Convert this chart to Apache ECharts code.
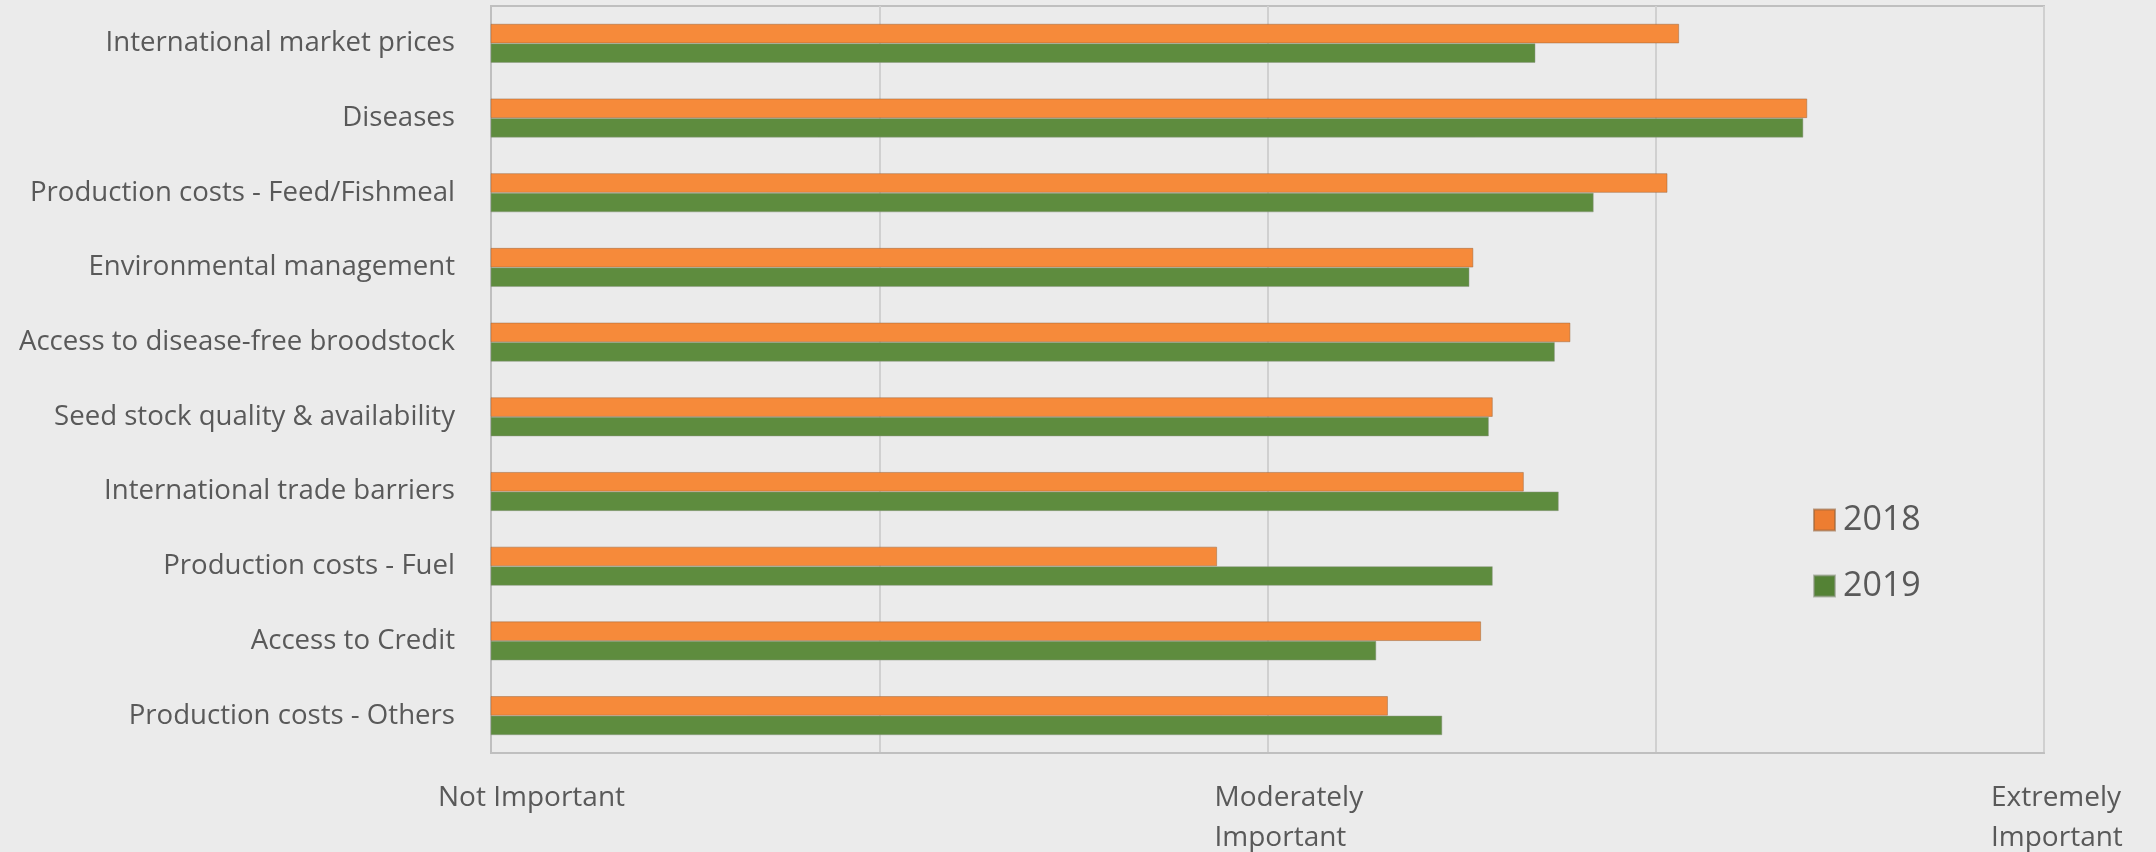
<!DOCTYPE html>
<html>
<head>
<meta charset="utf-8">
<script src="https://cdn.jsdelivr.net/npm/echarts@6/dist/echarts.min.js"></script>
<style>
html,body{margin:0;padding:0;background:#EBEBEB;}
#chart{width:2156px;height:852px;}
</style>
</head>
<body>
<div id="chart"></div>
<script>
const categories = [
  'International market prices',
  'Diseases',
  'Production costs - Feed/Fishmeal',
  'Environmental management',
  'Access to disease-free broodstock',
  'Seed stock quality & availability',
  'International trade barriers',
  'Production costs - Fuel',
  'Access to Credit',
  'Production costs - Others'
];
const values2018 = [4.06, 4.39, 4.03, 3.53, 3.78, 3.58, 3.66, 2.87, 3.55, 3.31];
const values2019 = [3.69, 4.38, 3.84, 3.52, 3.74, 3.57, 3.75, 3.58, 3.28, 3.45];
const tickValues = [1, 3, 5];
const tickTexts = ['Not Important', 'Moderately\nImportant', 'Extremely\nImportant'];
const seriesNames = ['2018', '2019'];

const textColor = '#595959';
const fontFam = '"Open Sans", sans-serif';

const chart = echarts.init(document.getElementById('chart'));
chart.setOption({
  backgroundColor: '#EBEBEB',
  animation: false,
  textStyle: { fontFamily: fontFam, color: textColor },
  grid: {
    left: 491, right: 112, top: 6, bottom: 97,
    show: true, borderColor: '#BFBFBF', borderWidth: 2, backgroundColor: 'transparent'
  },
  legend: {
    orient: 'vertical',
    left: 1813, top: 500, padding: 0,
    itemWidth: 21, itemHeight: 21, itemGap: 26,
    icon: 'rect',
    textStyle: { fontSize: 34, color: textColor, lineHeight: 40, fontFamily: fontFam, padding: [0, 0, 0, 3] },
    data: [
      { name: seriesNames[0], itemStyle: { color: '#ED7D31' } },
      { name: seriesNames[1], itemStyle: { color: '#548235' } }
    ]
  },
  xAxis: {
    type: 'value', min: 1, max: 5, interval: 1,
    axisLine: { show: true, lineStyle: { color: '#BFBFBF', width: 2 } },
    axisTick: { show: false },
    splitLine: { show: true, lineStyle: { color: '#D0D0D0', width: 2 } },
    axisLabel: {
      showMinLabel: true, showMaxLabel: true,
      margin: 25,
      align: 'center',
      formatter: function (v) {
        const i = tickValues.indexOf(v);
        if (i < 0) return '';
        return tickTexts[i].split('\n').map(s => '{t|' + s + '}').join('\n');
      },
      rich: {
        t: { width: 106, align: 'left', fontSize: 28, lineHeight: 40, color: textColor, fontFamily: fontFam }
      }
    }
  },
  yAxis: {
    type: 'category', data: categories, inverse: true,
    axisLine: { show: true, lineStyle: { color: '#BFBFBF', width: 2 } },
    axisTick: { show: false },
    axisLabel: { fontSize: 27.6, color: textColor, margin: 36, fontFamily: fontFam, padding: [7, 0, 0, 0] }
  },
  series: [
    {
      name: seriesNames[0], type: 'bar', data: values2018,
      barWidth: 19.5, barGap: '0%',
      itemStyle: { color: '#F68A3A', borderColor: 'rgba(150,100,60,0.6)', borderWidth: 0.8 }
    },
    {
      name: seriesNames[1], type: 'bar', data: values2019,
      barWidth: 19.5, barGap: '0%',
      itemStyle: { color: '#5E8C3E', borderColor: 'rgba(140,150,130,0.6)', borderWidth: 0.8 }
    }
  ]
});
</script>
</body>
</html>
